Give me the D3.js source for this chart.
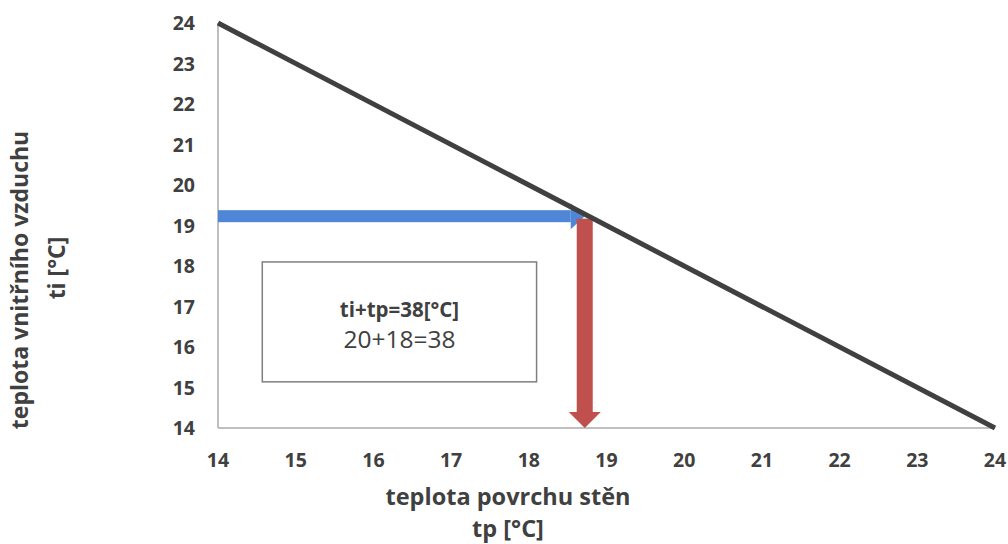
<!DOCTYPE html>
<html><head><meta charset="utf-8">
<script src="https://cdn.jsdelivr.net/npm/d3@7"></script>
<style>body{margin:0;background:#fff}svg{display:block}text{font-family:"Open Sans",sans-serif}</style>
</head><body><svg id="c" width="1008" height="544"></svg>
<script>
const xTicks = [14,15,16,17,18,19,20,21,22,23,24];
const yTicks = [14,15,16,17,18,19,20,21,22,23,24];
const lineTp = [14,24];
const lineTi = [24,14];
const blueArrow = {x0:14, x1:18.72, y:19.23};
const redArrow = {x:18.72, y0:19.17, y1:14};
const boxX = [14.57,18.1];
const boxY = [15.14,18.1];
const boxLines = ["ti+tp=38[°C]","20+18=38"];
const xTitle = ["teplota povrchu stěn","tp [°C]"];
const yTitle = ["teplota vnitřního vzduchu","ti [°C]"];

const svg = d3.select("#c");
const x = d3.scaleLinear().domain([14,24]).range([218,995]);
const y = d3.scaleLinear().domain([14,24]).range([428,23]);
const txt = "#404040";

// axes lines
svg.append("line").attr("x1",x(14)).attr("x2",x(14)).attr("y1",y(24)).attr("y2",y(14)).attr("stroke","#BFBFBF").attr("stroke-width",2);
svg.append("line").attr("x1",x(14)).attr("x2",x(24)).attr("y1",y(14)).attr("y2",y(14)).attr("stroke","#BFBFBF").attr("stroke-width",2);

// tick labels
svg.selectAll(".yt").data(yTicks).join("text").attr("x",195).attr("y",d=>y(d)).attr("dy","0.36em")
  .attr("text-anchor","end").attr("font-size",19.5).attr("font-weight","bold").attr("fill",txt).text(d=>d);
svg.selectAll(".xt").data(xTicks).join("text").attr("x",d=>x(d)).attr("y",460).attr("dy","0.36em")
  .attr("text-anchor","middle").attr("font-size",19.5).attr("font-weight","bold").attr("fill",txt).text(d=>d);

// box
svg.append("rect").attr("x",x(boxX[0])).attr("y",y(boxY[1])).attr("width",x(boxX[1])-x(boxX[0])).attr("height",y(boxY[0])-y(boxY[1]))
  .attr("fill","#fff").attr("stroke","#7F7F7F").attr("stroke-width",1.5);
const bcx = (x(boxX[0])+x(boxX[1]))/2;
svg.append("text").attr("x",bcx).attr("y",317).attr("text-anchor","middle").attr("font-size",20.5).attr("font-weight","bold").attr("fill",txt).text(boxLines[0]);
svg.append("text").attr("x",bcx).attr("y",348).attr("text-anchor","middle").attr("font-size",24.5).attr("fill",txt).text(boxLines[1]);

// blue arrow
const bw=12, bhl=14, bhw=13;
const by=y(blueArrow.y), bx0=x(blueArrow.x0), bx1=x(blueArrow.x1);
svg.append("rect").attr("x",bx0).attr("y",by-bw/2).attr("width",bx1-bhl-bx0).attr("height",bw).attr("fill","#4F86D6");
svg.append("path").attr("d",`M${bx1-bhl},${by-bhw}L${bx1},${by}L${bx1-bhl},${by+bhw}Z`).attr("fill","#4F86D6");

// red arrow
const rw=16, rhl=16, rhw=16;
const rx=x(redArrow.x), ry0=y(redArrow.y0), ry1=y(redArrow.y1);
svg.append("rect").attr("x",rx-rw/2).attr("y",ry0).attr("width",rw).attr("height",ry1-rhl-ry0).attr("fill","#C0504D");
svg.append("path").attr("d",`M${rx-rhw},${ry1-rhl}L${rx},${ry1}L${rx+rhw},${ry1-rhl}Z`).attr("fill","#C0504D");

// main line
svg.append("path").attr("d",d3.line().x(d=>x(d[0])).y(d=>y(d[1]))([[lineTp[0],lineTi[0]],[lineTp[1],lineTi[1]]]))
  .attr("stroke","#404040").attr("stroke-width",5).attr("fill","none");

// titles
svg.append("text").attr("x",508).attr("y",505).attr("text-anchor","middle").attr("font-size",23.5).attr("font-weight","bold").attr("fill",txt).text(xTitle[0]);
svg.append("text").attr("x",508).attr("y",537).attr("text-anchor","middle").attr("font-size",23.5).attr("font-weight","bold").attr("fill",txt).text(xTitle[1]);
svg.append("text").attr("transform","translate(28,280) rotate(-90)").attr("text-anchor","middle").attr("font-size",23).attr("font-weight","bold").attr("fill",txt).text(yTitle[0]);
svg.append("text").attr("transform","translate(65,268) rotate(-90)").attr("text-anchor","middle").attr("font-size",23).attr("font-weight","bold").attr("fill",txt).text(yTitle[1]);
</script></body></html>
